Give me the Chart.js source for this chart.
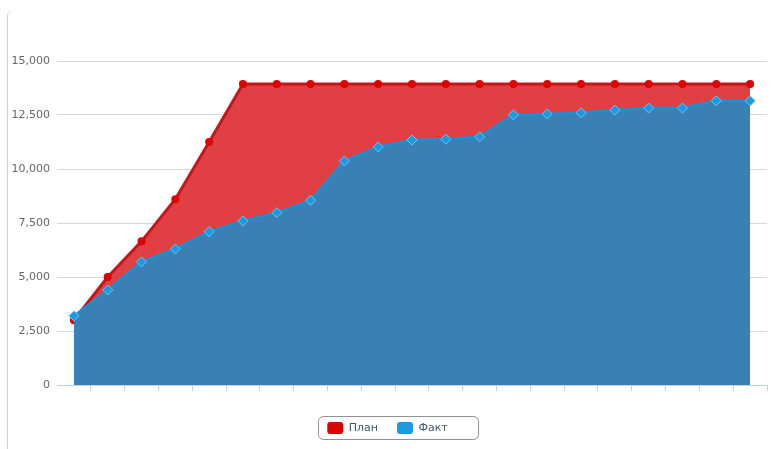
<!DOCTYPE html>
<html>
<head>
<meta charset="utf-8">
<script src="https://cdn.jsdelivr.net/npm/chart.js@4/dist/chart.umd.min.js"></script>
<style>
	html, body { margin: 0; padding: 0; background: #fff; }
	#wrap { position: relative; width: 782px; height: 449px; overflow: hidden; }
	#frame { position: absolute; left: 7px; top: 11px; width: 900px; height: 600px; border-left: 1px solid #c8d4e0; border-top-left-radius: 5px; }
	#chart { position: absolute; left: 0; top: 0; }
</style>
</head>
<body>
<div id="wrap">
	<div id="frame"></div>
	<canvas id="chart" width="782" height="449"></canvas>
</div>
<script>
const periods = ['1', '2', '3', '4', '5', '6', '7', '8', '9', '10', '11', '12', '13', '14', '15', '16', '17', '18', '19', '20', '21'];
const plan = [3000, 5000, 6650, 8600, 11250, 13930, 13930, 13930, 13930, 13930, 13930, 13930, 13930, 13930, 13930, 13930, 13930, 13930, 13930, 13930, 13930];
const fact = [3200, 4400, 5700, 6300, 7100, 7600, 7980, 8550, 10370, 11020, 11340, 11380, 11490, 12510, 12550, 12600, 12730, 12820, 12820, 13160, 13160];
const yTicks = [0, 2500, 5000, 7500, 10000, 12500, 15000];

Chart.defaults.font.family = "'DejaVu Sans', Verdana, sans-serif";

const axisColor = '#c0d0e0';

// рамка вокруг легенды
const legendFrame = {
	id: 'legendFrame',
	afterDraw(chart) {
		const boxes = chart.legend && chart.legend.legendHitBoxes;
		if (!boxes || !boxes.length) return;
		const left = Math.min(...boxes.map(b => b.left)) - 9;
		const right = Math.max(...boxes.map(b => b.left + b.width)) + 31;
		const cy = boxes[0].top + boxes[0].height / 2;
		const ctx = chart.ctx;
		ctx.save();
		ctx.strokeStyle = '#909090';
		ctx.lineWidth = 1;
		ctx.beginPath();
		ctx.roundRect(Math.round(left) + 0.5, Math.round(cy - 12) + 0.5, Math.round(right - left), 23, 5);
		ctx.stroke();
		ctx.restore();
	}
};

new Chart(document.getElementById('chart'), {
	type: 'line',
	data: {
		labels: periods,
		datasets: [
			{
				label: 'План',
				data: plan,
				order: 2,
				fill: 'origin',
				backgroundColor: '#e04044',
				borderColor: '#c4161c',
				borderWidth: 3,
				pointStyle: 'circle',
				pointRadius: 4,
				pointBackgroundColor: '#dd0000',
				pointBorderWidth: 0,
				tension: 0
			},
			{
				label: 'Факт',
				data: fact,
				order: 1,
				fill: 'origin',
				backgroundColor: '#3a80b4',
				borderColor: '#1b90d2',
				borderWidth: 2.5,
				pointStyle: 'rectRot',
				pointRadius: 5,
				pointBackgroundColor: '#1a9ae0',
				pointBorderColor: '#70c2ee',
				pointBorderWidth: 1,
				tension: 0
			}
		]
	},
	options: {
		responsive: false,
		animation: false,
		layout: { padding: { top: 61, right: 15, left: 8, bottom: 5 } },
		scales: {
			x: {
				offset: true,
				afterFit: s => { s.height = 18; },
				ticks: { display: false },
				border: { color: axisColor, width: 1 },
				grid: {
					offset: true,
					drawOnChartArea: false,
					drawTicks: true,
					tickLength: 6,
					color: c => c.index === 0 ? 'rgba(0,0,0,0)' : axisColor
				}
			},
			y: {
				min: 0,
				max: 15000,
				afterFit: s => { s.width = 49; },
				afterBuildTicks: s => { s.ticks = yTicks.map(v => ({ value: v })); },
				border: { display: false },
				grid: { color: '#d8d8d8', drawTicks: false },
				ticks: {
					padding: 7,
					color: '#666666',
					font: { size: 11 },
					callback: v => v.toLocaleString('en-US')
				}
			}
		},
		plugins: {
			tooltip: { enabled: false },
			legend: {
				position: 'bottom',
				labels: {
					boxWidth: 16,
					boxHeight: 12,
					padding: 19,
					color: '#3e576f',
					font: { size: 11 },
					useBorderRadius: true,
					borderRadius: 3,
					generateLabels(chart) {
						const items = Chart.defaults.plugins.legend.labels.generateLabels(chart);
						items.forEach(it => {
							const ds = chart.data.datasets[it.datasetIndex];
							it.fillStyle = ds.pointBackgroundColor;
							it.strokeStyle = ds.pointBackgroundColor;
							it.lineWidth = 0;
						});
						return items;
					},
					sort: (a, b) => a.datasetIndex - b.datasetIndex
				}
			}
		}
	},
	plugins: [legendFrame]
});
</script>
</body>
</html>
